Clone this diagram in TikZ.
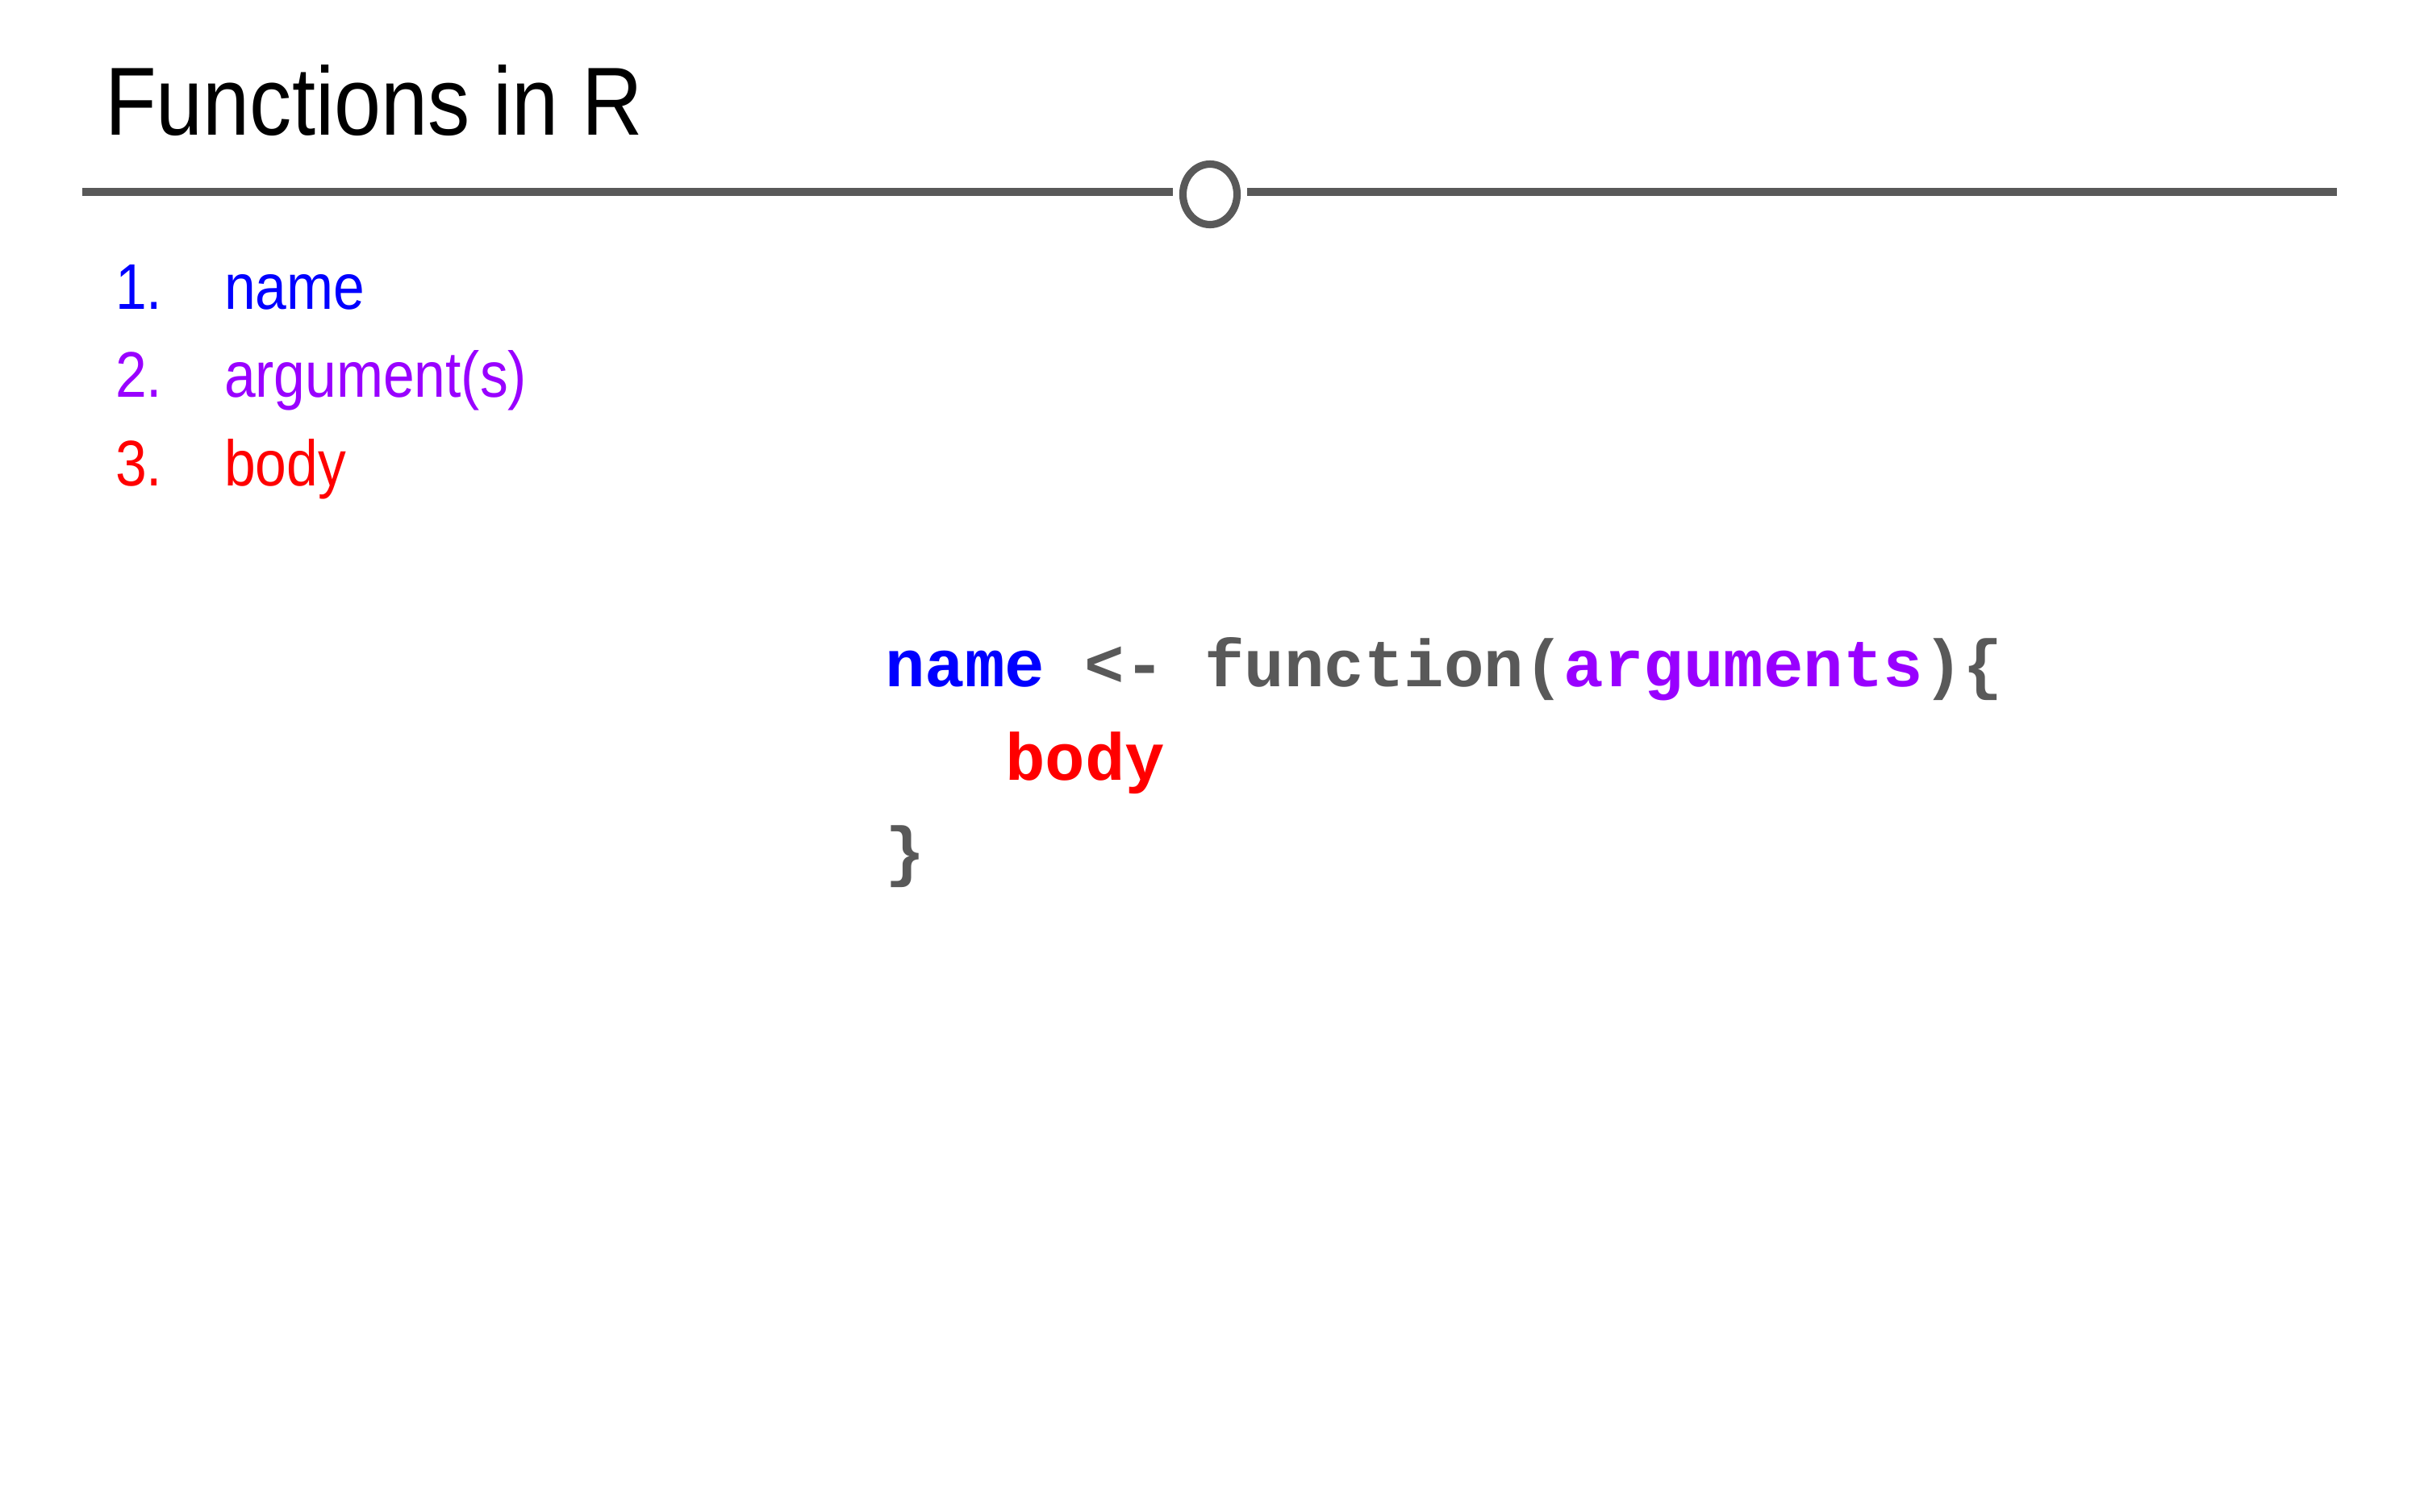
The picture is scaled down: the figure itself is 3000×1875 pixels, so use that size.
\documentclass[tikz,border=0pt]{standalone}
\usepackage{fontspec}
\setmainfont{Liberation Sans}
\newfontfamily\condfont[FakeStretch=0.87]{Liberation Sans}
\newfontfamily\codefont{Liberation Mono}
\usetikzlibrary{shapes.geometric}
\definecolor{cblue}{HTML}{0000FF}
\definecolor{cpurple}{HTML}{9900FF}
\definecolor{cred}{HTML}{FF0000}
\definecolor{cgray}{HTML}{595959}
\tikzset{
  txt/.style={anchor=base west, inner sep=0pt, outer sep=0pt},
  titletxt/.style={txt, font=\condfont\fontsize{28.8pt}{34pt}\selectfont, text=black},
  listtxt/.style={txt, font=\condfont\fontsize{19.2pt}{23pt}\selectfont},
  codetxt/.style={txt, font=\codefont\bfseries\fontsize{19.8pt}{24pt}\selectfont},
  rule/.style={draw=cgray, line width=2.4pt},
  knobstyle/.style={ellipse, draw=cgray, line width=2.2pt, inner sep=0pt,
    minimum width=16.1pt, minimum height=18pt}
}
\begin{document}
\begin{tikzpicture}[x=0.24pt, y=-0.24pt]
\useasboundingbox[fill=white] (0,0) rectangle (3000,1875);
% title
\node[titletxt] (title) at (130,167) {Functions in R};
% rule with knob
\node[knobstyle] (knob) at (1500,241) {};
\coordinate (L1) at (102,238);
\coordinate (R1) at (2897,238);
\draw[rule] (L1) -- ([xshift=-2pt]knob.west |- L1);
\draw[rule] ([xshift=2pt]knob.east |- R1) -- (R1);
% list
\node[listtxt, text=cblue] (n1) at (143,383) {1.};
\node[listtxt, text=cblue] (i1) at (278,383) {name};
\node[listtxt, text=cpurple] (n2) at (143,492) {2.};
\node[listtxt, text=cpurple] (i2) at (278,492) {argument(s)};
\node[listtxt, text=cred] (n3) at (143,602) {3.};
\node[listtxt, text=cred] (i3) at (278,602) {body};
% code
\node[codetxt, text=cgray] (c1) at (1097,851) {\textcolor{cblue}{name}\ <-\ function(\textcolor{cpurple}{arguments})\{};
\node[codetxt, text=cred] (c2) at (1246,967) {body};
\node[codetxt, text=cgray] (c3) at (1097,1083) {\}};
\end{tikzpicture}
\end{document}
